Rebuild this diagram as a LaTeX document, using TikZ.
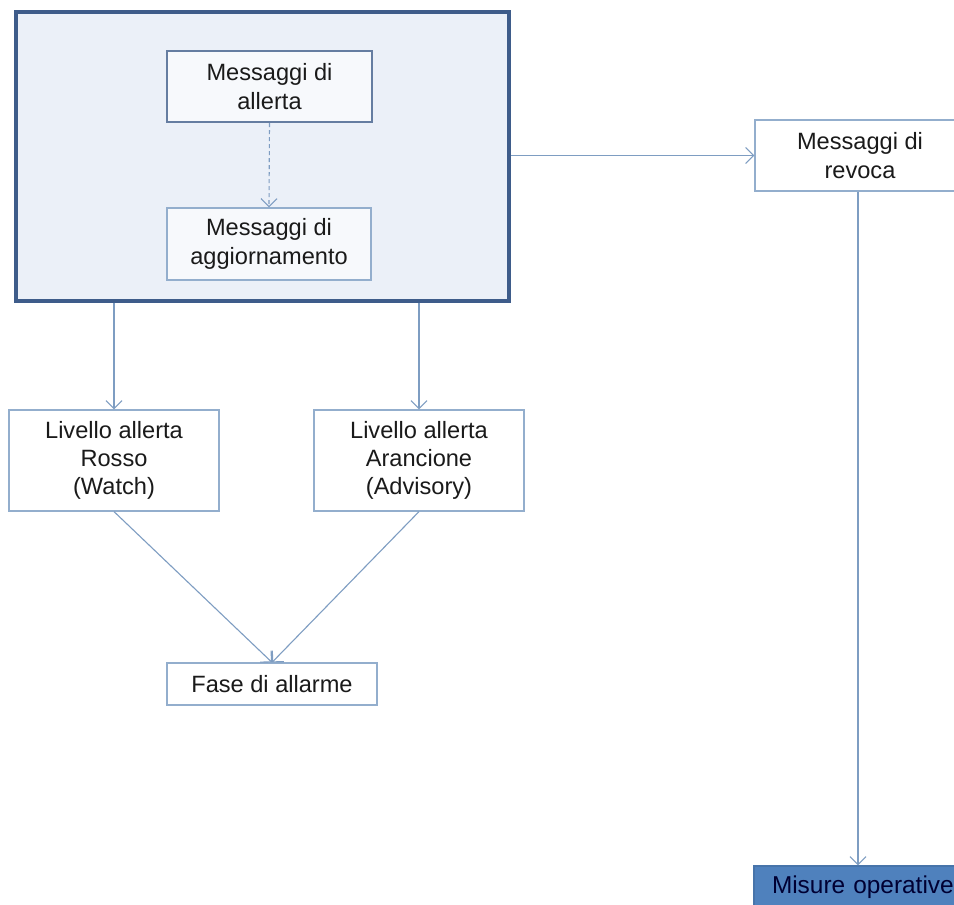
\documentclass[tikz,border=0pt]{standalone}
\usepackage{fontspec}
\setmainfont{Liberation Sans}
\usetikzlibrary{arrows.meta}
\definecolor{outerline}{HTML}{3E5C8A}
\definecolor{outerfill}{HTML}{EBF0F8}
\definecolor{thinline}{HTML}{93AECD}
\definecolor{arrowcol}{HTML}{7E9DC2}
\definecolor{misfill}{HTML}{4F81BD}
\definecolor{txt}{HTML}{1A1A1A}
\tikzset{
  box/.style={draw=thinline, line width=1.2pt, fill=white, align=center, inner sep=0pt,
    text=txt, font=\fontsize{23.6}{28.3}\selectfont},
  conn/.style={draw=arrowcol, line width=1.1pt, -{Straight Barb[length=8pt,width=16pt]}},
}
\begin{document}
\begin{tikzpicture}[x=1pt,y=-1pt]
\useasboundingbox (0,0) rectangle (954,905);
\fill[white] (0,0) rectangle (954,905);
\node[draw=outerline, line width=3.2pt, fill=outerfill, minimum width=493pt, minimum height=289pt, inner sep=0pt] (outer) at (262.5,156.5) {};
\node[box, draw=outerline!80, line width=2.4pt, fill=outerfill!40, minimum width=205pt, minimum height=71pt] (allerta) at (269.5,86.5) {Messaggi di\\allerta};
\node[box, fill=outerfill!40, minimum width=204pt, minimum height=72pt] (aggiorn) at (269,244) {Messaggi di\\aggiornamento};
\node[box, minimum width=210pt, minimum height=71pt] (revoca) at (860,155.5) {Messaggi di\\revoca};
\node[box, minimum width=210pt, minimum height=101pt] (rosso) at (114,460.5) {Livello allerta\\Rosso\\(Watch)};
\node[box, minimum width=210pt, minimum height=101pt] (arancione) at (419,460.5) {Livello allerta\\Arancione\\(Advisory)};
\node[box, minimum width=210pt, minimum height=42pt] (fase) at (272,684) {Fase di allarme};
\node[box, fill=misfill, draw=misfill!90!black, text=black!80!blue, font=\fontsize{24.4}{29}\selectfont, minimum width=220pt, minimum height=42pt, text width=200pt, align=left] (misure) at (864,887) {\hspace*{8pt}Misure operative};
\coordinate (revtop) at (858,0);
\draw[conn, dashed, dash pattern=on 4pt off 3pt] (allerta.south) -- (aggiorn.north);
\draw[conn] (outer.east |- revoca.west) -- (revoca.west);
\draw[conn] (rosso.north |- outer.south) -- (rosso.north);
\draw[conn] (arancione.north |- outer.south) -- (arancione.north);
\draw[conn] (rosso.south) -- (fase.north);
\draw[conn] (arancione.south) -- (fase.north);
\draw[conn] (revtop |- revoca.south) -- (revtop |- misure.north);
\end{tikzpicture}
\end{document}
